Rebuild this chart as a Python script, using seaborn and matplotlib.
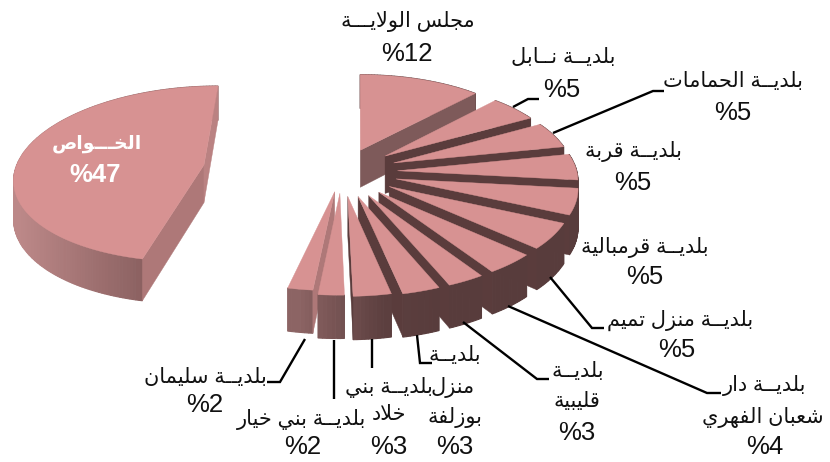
import matplotlib

matplotlib.use("Agg")
import matplotlib.pyplot as plt
import numpy as np
import seaborn as sns

# municipality shares, clockwise from 12 o'clock
names = [
    "مجلس الولايـــة", "بلديــة نــابل", "بلديــة الحمامات", "بلديــة قربة",
    "بلديــة قرمبالية", "بلديــة منزل تميم", "بلديــة دار\nشعبان الفهري",
    "بلديــة\nقليبية", "بلديــة\nمنزل\nبوزلفة", "بلديــة بني\nخلاد",
    "بلديــة بني خيار", "بلديــة سليمان", "الخـــواص",
]
values = [12, 5, 5, 5, 5, 5, 4, 3, 3, 3, 2, 2, 47]
value_labels = ["%12", "%5", "%5", "%5", "%5", "%5", "%4", "%3", "%3", "%3", "%2", "%2", "%47"]

# how far each slice is pulled out of the pie, and its radius
explode = [0.22, 0.24, 0.24, 0.24, 0.24, 0.24, 0.24, 0.24, 0.23, 0.22, 0.19, 0.18, 0.6]
radius = [0.8, 0.77, 0.77, 0.77, 0.77, 0.77, 0.77, 0.77, 0.78, 0.78, 0.8, 0.78, 0.81]

# centre of each text line, in picture pixels
name_lines_xy = [
    [(408, 22)], [(563, 58)], [(733, 81)], [(633, 152)], [(645, 247)], [(680, 320)],
    [(765, 385), (763, 417)], [(578, 372), (577, 402)],
    [(455, 355), (453, 387), (455, 417)], [(389, 388), (389, 415)],
    [(302, 420)], [(205, 377)], [(97, 144)],
]
value_xy = [
    (407, 54), (562, 90), (733, 113), (633, 183), (645, 277), (677, 350), (765, 447),
    (577, 433), (455, 447), (389, 447), (303, 447), (205, 405), (95, 175),
]
leaders = [
    [(513, 107), (528, 99), (539, 99)],
    [(553, 133), (653, 91), (664, 91)],
    [(550, 277), (592, 328), (604, 328)],
    [(508, 306), (707, 393), (721, 393)],
    [(463, 322), (537, 379), (549, 379)],
    [(417, 335), (420, 363), (432, 363)],
    [(372, 339), (372, 368)],
    [(334, 340), (334, 399)],
    [(305, 339), (280, 382), (267, 382)],
]

TOP_COLOR = "#D79292"
END_CUT = "#5A3C3C"
FIRST_END_CUT = "#7E5A5A"
START_CUT = "#AE7878"
LAST_END_CUT = "#BA8282"
side_x = [20, 147, 300, 385, 440]
side_colors = sns.color_palette(["#BC8888", "#8A6060", "#8C6464", "#5C3F3F", "#583C3C"])

# camera of the 3D pie
VANISH_X, VANISH_Y, CAM, PERSP, SCALE_X = 358, -700, 872, 0.125, 233
CENTER_X, DEPTH = -0.07, 38

FORMS = {
    "ا": (0xFE8D, 2), "ب": (0xFE8F, 4), "ة": (0xFE93, 2), "ت": (0xFE95, 4), "ج": (0xFE9D, 4),
    "ح": (0xFEA1, 4), "خ": (0xFEA5, 4), "د": (0xFEA9, 2), "ر": (0xFEAD, 2), "ز": (0xFEAF, 2),
    "س": (0xFEB1, 4), "ش": (0xFEB5, 4), "ص": (0xFEB9, 4), "ع": (0xFEC9, 4), "ف": (0xFED1, 4),
    "ق": (0xFED5, 4), "ل": (0xFEDD, 4), "م": (0xFEE1, 4), "ن": (0xFEE5, 4), "ه": (0xFEE9, 4),
    "و": (0xFEED, 2), "ي": (0xFEF1, 4),
}
KASHIDA = "ـ"


def shape(text):
    # matplotlib has no Arabic shaping, so pick the joined forms and reverse by hand
    text = text.replace("لا", "\ufdf2")
    out = []
    for i, ch in enumerate(text):
        prev = text[i - 1] if i else " "
        nxt = text[i + 1] if i + 1 < len(text) else " "
        joins_prev = prev == KASHIDA or (prev in FORMS and FORMS[prev][1] == 4)
        joins_next = nxt == KASHIDA or nxt == "\ufdf2" or (nxt in FORMS)
        if ch == "\ufdf2":
            out.append("\ufefc" if joins_prev else "\ufefb")
        elif ch in FORMS:
            base, count = FORMS[ch]
            if count == 2:
                out.append(chr(base + (1 if joins_prev else 0)))
            elif joins_prev and joins_next:
                out.append(chr(base + 3))
            elif joins_prev:
                out.append(chr(base + 1))
            elif joins_next:
                out.append(chr(base + 2))
            else:
                out.append(chr(base))
        else:
            out.append(ch)
    return "".join(reversed(out))


def project(x, z, drop=0.0):
    d = 1 + PERSP * z
    return VANISH_X + x * SCALE_X / d, VANISH_Y + (CAM + drop) / d


def side_color(x):
    return tuple(np.interp(x, side_x, [c[i] for c in side_colors]) for i in range(3))


def draw_slice(ax, t0, t1, pull, r, first, last):
    mid = (t0 + t1) / 2
    ox = CENTER_X + pull * np.sin(mid)
    oz = pull * np.cos(mid)
    ts = np.linspace(t0, t1, max(int((t1 - t0) * 60), 4))
    arc_x = ox + r * np.sin(ts)
    arc_z = oz + r * np.cos(ts)

    top_pts = [project(ox, oz)] + [project(x, z) for x, z in zip(arc_x, arc_z)]

    # curved wall first, then the cut faces, the top goes over everything
    for i in range(len(ts) - 1):
        a, b = (arc_x[i], arc_z[i]), (arc_x[i + 1], arc_z[i + 1])
        quad = [project(*a), project(*b), project(*b, DEPTH), project(*a, DEPTH)]
        x_mid = min(quad[0][0], side_x[1]) if last else quad[0][0]
        ax.fill(*zip(*quad), color=side_color(x_mid), lw=0.8)

    faces = []
    if np.sin(t0) < -1e-6:
        faces.append((t0, START_CUT))
    if last:
        faces.append((t1, LAST_END_CUT))
    elif np.sin(t1) > 1e-6:
        faces.append((t1, FIRST_END_CUT if first else END_CUT))
    for t, color in faces:
        ex, ez = ox + r * np.sin(t), oz + r * np.cos(t)
        quad = [project(ox, oz), project(ex, ez), project(ex, ez, DEPTH), project(ox, oz, DEPTH)]
        ax.fill(*zip(*quad), color=color, lw=0.3)

    ax.fill(*zip(*top_pts), color=TOP_COLOR, lw=0.3)


sns.set_theme(style="white")
plt.rcParams["font.family"] = ["Liberation Sans", "DejaVu Sans"]

fig = plt.figure(figsize=(8.3, 4.62), dpi=100)
ax = fig.add_axes([0, 0, 1, 1])
ax.set_xlim(0, 830)
ax.set_ylim(462, 0)
ax.axis("off")

edges = np.cumsum([0] + values) / sum(values) * 2 * np.pi
order = sorted(range(len(values)), key=lambda i: -np.cos((edges[i] + edges[i + 1]) / 2) * (i != 12))
for i in order:
    draw_slice(ax, edges[i], edges[i + 1], explode[i], radius[i], i == 0, i == 12)

for path in leaders:
    ax.plot(*zip(*path), color="black", lw=1.7, solid_joinstyle="miter", solid_capstyle="butt")

for i, name in enumerate(names):
    inside = i == 12
    color = "white" if inside else "#111111"
    for line, (x, y) in zip(name.split("\n"), name_lines_xy[i]):
        ax.text(x, y, shape(line), ha="center", va="center", color=color,
                fontsize=13.5 if inside else 15, fontweight="bold" if inside else "normal")
    vx, vy = value_xy[i]
    ax.text(vx, vy, value_labels[i], ha="center", va="center", color=color,
            fontsize=18.5, fontweight="bold" if inside else "normal")

fig.savefig("out.png", dpi=100, facecolor="white")
